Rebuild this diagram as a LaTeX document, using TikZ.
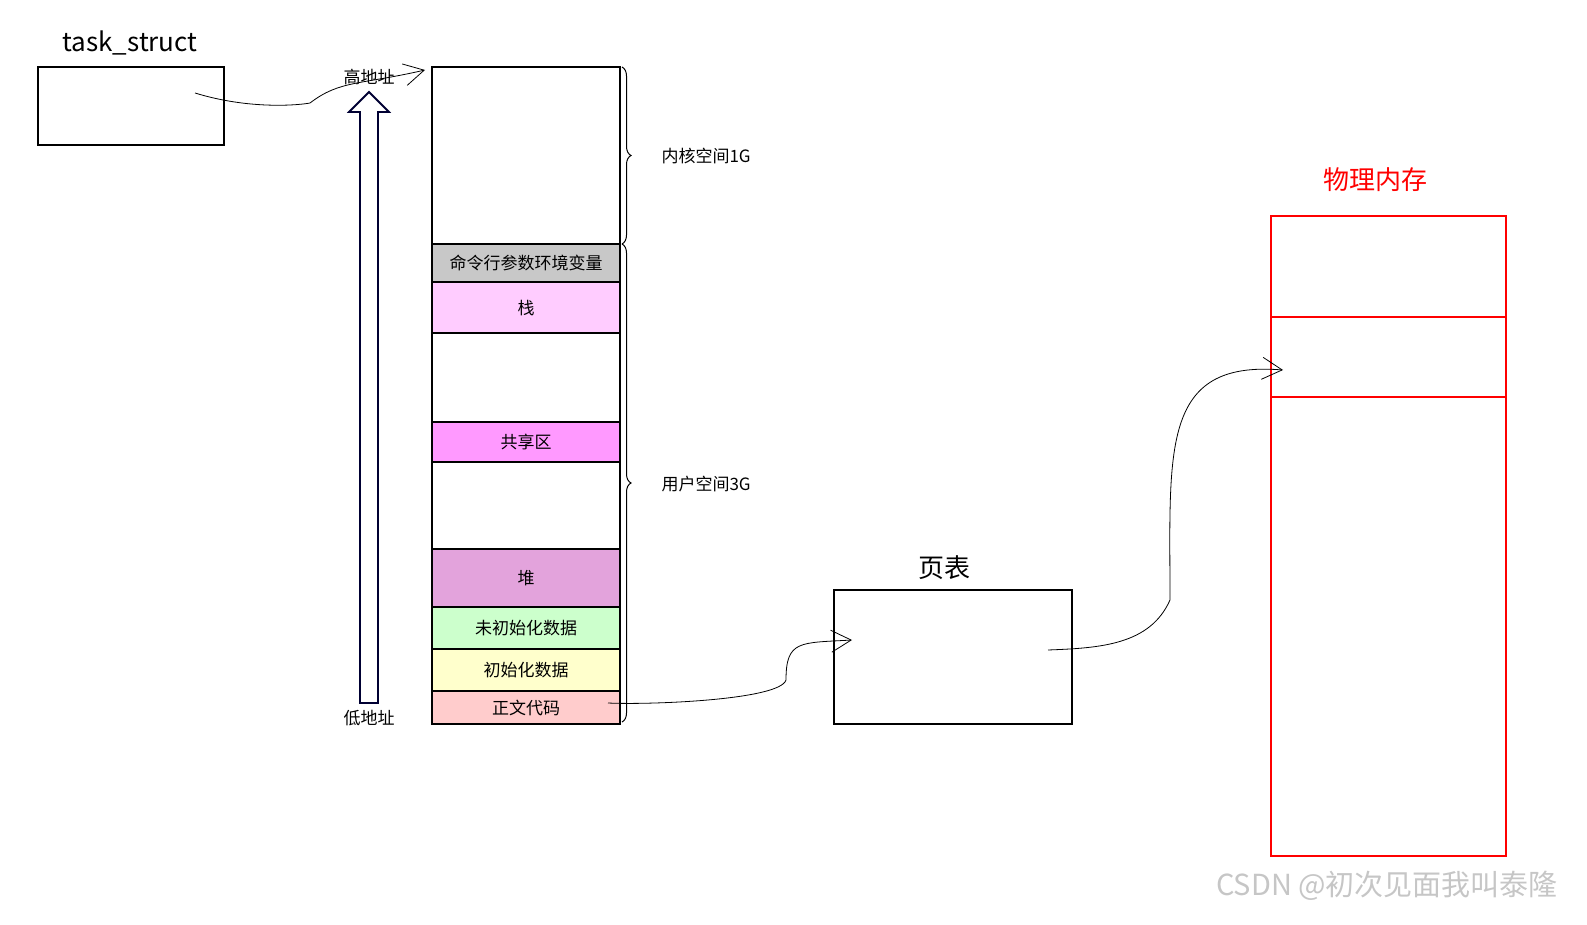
\documentclass[tikz,border=0pt]{standalone}
\usepackage{fontspec}
\setmainfont{Noto Sans CJK SC}
\usetikzlibrary{arrows.meta,decorations.pathreplacing}
\definecolor{cstk}{HTML}{FFCCFF}
\definecolor{cshr}{HTML}{FF99FF}
\definecolor{cheap}{HTML}{E3A3DC}
\definecolor{cbss}{HTML}{CCFFCC}
\definecolor{cdat}{HTML}{FFFFCC}
\definecolor{ctxt}{HTML}{FFCCCC}
\definecolor{ccmd}{HTML}{C8C8C8}
\begin{document}
\begin{tikzpicture}[x=1pt,y=-1pt,
  lbl/.style={font=\fontsize{17}{19}\selectfont},
  ttl/.style={font=\fontsize{26}{28}\selectfont},
  conn/.style={line width=0.8pt,-{Straight Barb[length=20pt,width=22pt]}},
  brc/.style={decorate,decoration={brace,amplitude=9pt},line width=1pt}]
\useasboundingbox (0,0) rectangle (1587,925);
% task_struct
\node[draw,line width=1.8pt,minimum width=186pt,minimum height=78pt,inner sep=0] (ts) at (131,106) {};
\node[ttl] (tst) at (130,43) {task\_struct};
% memory column
\fill[ccmd] (432,244) rectangle (620,282);
\fill[cstk] (432,282) rectangle (620,333);
\fill[cshr] (432,422) rectangle (620,462);
\fill[cheap] (432,549) rectangle (620,607);
\fill[cbss] (432,607) rectangle (620,649);
\fill[cdat] (432,649) rectangle (620,691);
\fill[ctxt] (432,691) rectangle (620,724);
\draw[line width=1.2pt] (432,67) rectangle (620,724);
\foreach \y in {244,282,333,422,462,549,607,649,691} \draw[line width=1.2pt] (432,\y) -- (620,\y);
\node[lbl] (cmd) at (526,263) {命令行参数环境变量};
\node[lbl] (stk) at (526,308) {栈};
\node[lbl] (shr) at (526,442) {共享区};
\node[lbl] (heap) at (526,578) {堆};
\node[lbl] (bss) at (526,628) {未初始化数据};
\node[lbl] (dat) at (526,670) {初始化数据};
\node[lbl] (txt) at (526,708) {正文代码};
\coordinate (memtop) at (425,70);
% braces
\draw[brc] (622,67) -- (622,244);
\draw[brc] (622,244) -- (622,722);
\node[lbl,anchor=west] (k) at (658,156) {内核空间1G};
\node[lbl,anchor=west] (u) at (658,484) {用户空间3G};
% address arrow
\draw[draw=black!80!blue,line width=1.8pt,fill=white] (360,703) -- (360,112) -- (349,112) -- (369,92) -- (389,112) -- (378,112) -- (378,703) -- cycle;
\node[lbl] (hi) at (369,77) {高地址};
\node[lbl] (lo) at (369,718) {低地址};
% page table
\node[draw,line width=1.8pt,minimum width=238pt,minimum height=134pt,inner sep=0] (pt) at (953,657) {};
\node[ttl] (ptt) at (944,568) {页表};
% physical memory
\draw[red,line width=1.8pt] (1271,216) rectangle (1506,856);
\draw[red,line width=1.8pt] (1271,317) -- (1506,317) (1271,397) -- (1506,397);
\node[red,ttl] (pmt) at (1375,180) {物理内存};
% connectors
\coordinate (a1) at (195,93);
\draw[conn] (a1) .. controls (250,110) and (300,105) .. (310,103) .. controls (340,80) and (360,85) .. (memtop);
\coordinate (a2) at (608,703);
\coordinate (a2e) at (852,640);
\draw[conn] (a2) .. controls (650,705) and (780,700) .. (786,680) .. controls (786,640) and (800,643) .. (a2e);
\coordinate (a3) at (1048,650);
\coordinate (a3e) at (1283,370);
\draw[conn] (a3) .. controls (1100,648) and (1150,645) .. (1170,600) .. controls (1170,450) and (1160,360) .. (a3e);
\node[gray!45,font=\fontsize{29}{31}\selectfont] (wm) at (1387,886) {CSDN @初次见面我叫泰隆};
\end{tikzpicture}
\end{document}
